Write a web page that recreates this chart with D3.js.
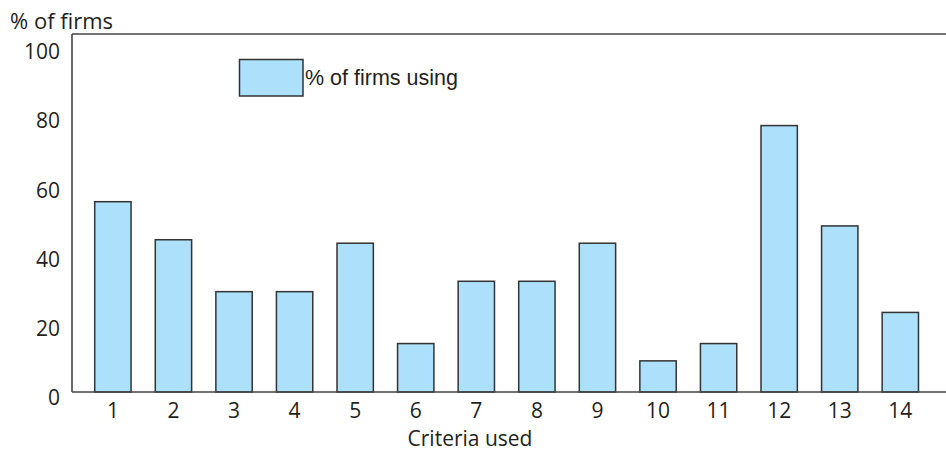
<!DOCTYPE html>
<html>
<head>
<meta charset="utf-8">
<script src="https://cdn.jsdelivr.net/npm/d3@7"></script>
<style>
  html, body { margin: 0; padding: 0; background: #fff; }
  svg { display: block; }
  text { font-family: "Open Sans", "Noto Sans", sans-serif; fill: #231f20; }
</style>
</head>
<body>
<svg id="chart" width="946" height="451"></svg>
<script>
// Criteria numbers along the horizontal axis
const criteria = ["1","2","3","4","5","6","7","8","9","10","11","12","13","14"];
// Share of firms using each criterion (%)
const firmsUsing = [55, 44, 29, 29, 43, 14, 32, 32, 43, 9, 14, 77, 48, 23];
// Vertical axis ticks
const yTicks = [0, 20, 40, 60, 80, 100];
const seriesName = "% of firms using";
const yTitle = "% of firms";
const xTitle = "Criteria used";

const plot = { left: 72, right: 946, top: 34, bottom: 392 };

const svg = d3.select("#chart");

const x = d3.scaleBand()
  .domain(criteria)
  .range([82.6, 930.6])
  .paddingInner(0.4)
  .paddingOuter(0.2);

const y = d3.scaleLinear()
  .domain([0, 100])
  .range([plot.bottom, 46]);

// Bars
svg.append("g")
  .selectAll("rect")
  .data(criteria.map((c, i) => ({ c, v: firmsUsing[i] })))
  .join("rect")
  .attr("x", d => x(d.c))
  .attr("y", d => y(d.v))
  .attr("width", x.bandwidth())
  .attr("height", d => y(0) - y(d.v))
  .attr("fill", "#ade0fa")
  .attr("stroke", "#333")
  .attr("stroke-width", 1.5);

// Frame: left axis, baseline and top rule
const frame = svg.append("g").attr("stroke", "#444").attr("stroke-width", 1.6).attr("fill", "none");
frame.append("line").attr("x1", plot.left).attr("x2", plot.left).attr("y1", plot.top).attr("y2", plot.bottom);
frame.append("line").attr("x1", plot.left).attr("x2", plot.right).attr("y1", plot.bottom).attr("y2", plot.bottom);
frame.append("line").attr("x1", plot.left).attr("x2", plot.right).attr("y1", plot.top).attr("y2", plot.top);

// Y axis labels (no tick marks)
const yAxis = d3.axisLeft(y).tickValues(yTicks).tickSize(0).tickPadding(0);
const gy = svg.append("g").attr("transform", `translate(${plot.left - 12},6)`).call(yAxis);
gy.select(".domain").remove();
gy.selectAll("text").attr("font-size", 21).attr("font-family", "Open Sans, sans-serif").attr("fill", "#231f20");

// X axis labels
const xAxis = d3.axisBottom(x).tickSize(0).tickPadding(0);
const gx = svg.append("g").attr("transform", `translate(0,${plot.bottom + 11})`).call(xAxis);
gx.select(".domain").remove();
gx.selectAll("text").attr("font-size", 21).attr("font-family", "Open Sans, sans-serif").attr("fill", "#231f20");

// Axis titles
svg.append("text").attr("x", 10).attr("y", 29).attr("font-size", 22).text(yTitle);
svg.append("text").attr("x", 470).attr("y", 446).attr("text-anchor", "middle").attr("font-size", 21).text(xTitle);

// Legend
svg.append("rect")
  .attr("x", 239.5).attr("y", 59.5).attr("width", 63.5).attr("height", 36.5)
  .attr("fill", "#ade0fa").attr("stroke", "#333").attr("stroke-width", 1.5);
svg.append("text")
  .attr("x", 305).attr("y", 85)
  .attr("font-size", 21.5)
  .style("font-family", "'Liberation Sans', Arial, sans-serif")
  .text(seriesName);
</script>
</body>
</html>
